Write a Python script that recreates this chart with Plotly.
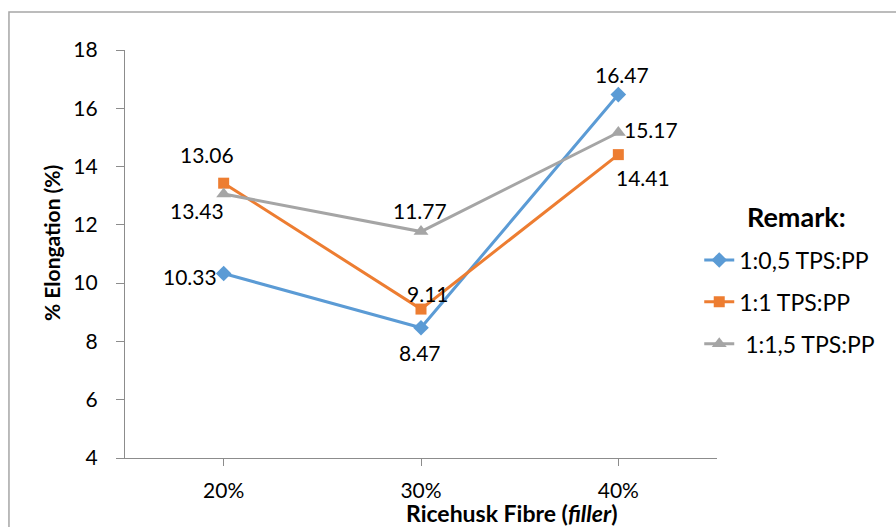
import plotly.graph_objects as go

# ---- data ----
categories = ["20%", "30%", "40%"]
series_names = ["1:0,5 TPS:PP", "1:1 TPS:PP", " 1:1,5 TPS:PP"]
blue_vals = [10.33, 8.47, 16.47]
orange_vals = [13.43, 9.11, 14.41]
grey_vals = [13.06, 11.77, 15.17]
y_ticks = [4, 6, 8, 10, 12, 14, 16, 18]

# ---- style ----
colors = ["#5B9BD5", "#ED7D31", "#A5A5A5"]
symbols = ["diamond", "square", "triangle-up"]
msizes = [12, 11, 13]
# label offsets (px) per series per point: (xshift, yshift)
label_offsets = [
    [(-34, -3), (-1, -25), (4, 20)],
    [(-27, -27), (7, 16), (25, -23)],
    [(-17, 39), (-1, 21), (33, 3)],
]
FONT = "Lato, 'Open Sans', sans-serif"
AXCOL = "#8C8C8C"

fig = go.Figure()
all_vals = [blue_vals, orange_vals, grey_vals]
for i, vals in enumerate(all_vals):
    fig.add_trace(go.Scatter(
        x=list(range(len(categories))), y=vals, name=series_names[i],
        mode="lines+markers",
        line=dict(color=colors[i], width=3),
        marker=dict(symbol=symbols[i], size=msizes[i], color=colors[i]),
        legendgroup=f"g{i}",
    ))

annotations = []
for i, vals in enumerate(all_vals):
    for j, v in enumerate(vals):
        dx, dy = label_offsets[i][j]
        annotations.append(dict(
            x=j, y=v, xref="x", yref="y", text=f"{v:.2f}", showarrow=False,
            xshift=dx, yshift=dy, font=dict(family=FONT, size=21, color="#000000"),
        ))

# axis titles and legend heading
annotations.append(dict(
    x=-0.1233, y=0.527, xref="paper", yref="paper", showarrow=False, textangle=-90,
    xanchor="center", yanchor="middle",
    text="<b>% Elongation (%)</b>", font=dict(family=FONT, size=21, color="#000000"),
))
annotations.append(dict(
    x=0.653, y=-0.1336, xref="paper", yref="paper", showarrow=False,
    xanchor="center", yanchor="middle",
    text="<b>Ricehusk Fibre (<i>filler</i>)</b>", font=dict(family=FONT, size=23, color="#000000"),
))
annotations.append(dict(
    x=1.134, y=0.591, xref="paper", yref="paper", showarrow=False,
    xanchor="center", yanchor="middle",
    text="<b>Remark:</b>", font=dict(family=FONT, size=27, color="#000000"),
))

fig.update_layout(
    width=896, height=527,
    margin=dict(l=125, r=179, t=50, b=69),
    paper_bgcolor="white", plot_bgcolor="white",
    font=dict(family=FONT, size=21, color="#000000"),
    showlegend=True,
    legend=dict(
        x=0.970, y=0.538, xanchor="left", yanchor="top",
        font=dict(family=FONT, size=23, color="#000000"),
        tracegroupgap=9, bgcolor="rgba(0,0,0,0)",
    ),
    annotations=annotations,
    shapes=[dict(
        type="rect", xref="paper", yref="paper",
        x0=-0.196, x1=1.32, y0=-0.18, y1=1.093,
        line=dict(color="#A6A6A6", width=1.5), layer="below",
    )],
)
fig.update_xaxes(
    tickmode="array", tickvals=list(range(len(categories))), ticktext=categories,
    range=[-0.5, len(categories) - 0.5],
    showline=True, linecolor=AXCOL, linewidth=1.2,
    ticks="outside", ticklen=7, tickcolor=AXCOL, tickwidth=1.2,
    showgrid=False, zeroline=False, ticklabelstandoff=7,
)
fig.update_yaxes(
    range=[4, 18], tickmode="array", tickvals=y_ticks, ticktext=[str(t) for t in y_ticks],
    showline=True, linecolor=AXCOL, linewidth=1.2,
    ticks="outside", ticklen=8, tickcolor=AXCOL, tickwidth=1.2,
    showgrid=False, zeroline=False, ticklabelstandoff=14,
)

fig.write_html("out.html")
